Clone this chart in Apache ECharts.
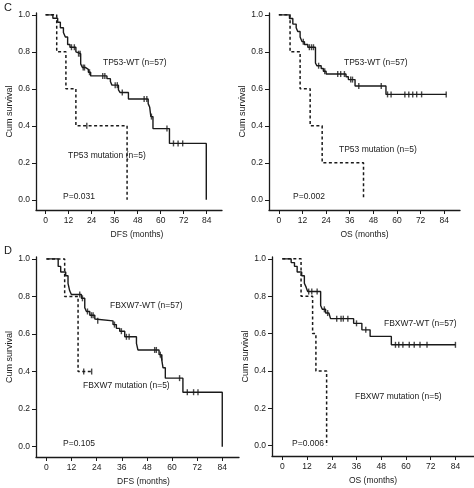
<!DOCTYPE html>
<html><head><meta charset="utf-8">
<script src="https://cdn.jsdelivr.net/npm/echarts@6/dist/echarts.min.js"></script>
<style>html,body{margin:0;padding:0;background:#fff}#c{width:474px;height:488px}</style>
</head><body><div id="c"></div>
<script>
// Tick labels
const xTicks = [0, 12, 24, 36, 48, 60, 72, 84];
const yTicks = [0, 0.2, 0.4, 0.6, 0.8, 1.0];

// Panel C left: TP53, DFS
const tp53DfsWT = [[0,1],[3.8,0.982],[6.3,0.96],[7.7,0.93],[9.3,0.905],[10.3,0.88],[11.5,0.84],[12.7,0.825],[15.8,0.80],[16.6,0.79],[18.3,0.735],[19.2,0.715],[20.9,0.705],[22.3,0.69],[23.5,0.67],[32,0.655],[33.8,0.64],[34.6,0.62],[38,0.595],[38.9,0.58],[43.2,0.545],[53.5,0.52],[54.3,0.50],[54.9,0.45],[56,0.385],[64.6,0.305],[83.8,0]];
const tp53DfsWTCens = [[13.5,0.825],[15,0.825],[17.2,0.79],[18,0.79],[19.6,0.715],[20.3,0.715],[22.9,0.69],[29.8,0.67],[30.9,0.67],[36.3,0.62],[37.4,0.62],[40,0.58],[51.4,0.545],[52.8,0.545],[55.2,0.45],[63.3,0.385],[66.7,0.305],[69.1,0.305],[71.5,0.305]];
const tp53DfsMut = [[0,1],[5.8,0.8],[10.6,0.6],[15.8,0.4],[42.5,0]];
const tp53DfsMutCens = [[21.5,0.4]];

// Panel C right: TP53, OS
const tp53OsWT = [[0,1],[5.4,0.98],[7.1,0.95],[8.8,0.93],[9.6,0.91],[10.8,0.88],[11.8,0.855],[13,0.84],[14.7,0.825],[18.6,0.74],[19.3,0.725],[21.5,0.71],[22.6,0.695],[24,0.68],[34.1,0.665],[35.3,0.65],[38.7,0.615],[54.4,0.57],[85,0.57]];
const tp53OsWTCens = [[12.4,0.855],[15.5,0.825],[16.6,0.825],[17.6,0.825],[20.2,0.725],[23.3,0.695],[29.9,0.68],[31.4,0.68],[33.3,0.68],[36.5,0.65],[37.4,0.65],[40.6,0.615],[52,0.615],[55.2,0.57],[57,0.57],[64,0.57],[66,0.57],[68,0.57],[70,0.57],[72.5,0.57],[85,0.57]];
const tp53OsMut = [[0,1],[5.7,0.8],[10.8,0.6],[15.9,0.4],[22,0.2],[43,0]];
const tp53OsMutCens = [];

// Panel D left: FBXW7, DFS
const fbxDfsWT = [[0,1],[5.6,0.96],[6.8,0.93],[9.2,0.91],[10.3,0.87],[11.1,0.83],[11.9,0.81],[16.7,0.79],[18.3,0.74],[19.1,0.72],[20.7,0.70],[23.1,0.68],[23.9,0.67],[31.8,0.65],[33.4,0.63],[35,0.615],[37.4,0.585],[43,0.55],[43.7,0.515],[53.8,0.49],[54.9,0.475],[55.7,0.42],[56.8,0.365],[65.2,0.29],[84,0]];
const fbxDfsWTCens = [[15.9,0.81],[17.2,0.79],[19.6,0.72],[21.5,0.70],[22.3,0.70],[24.5,0.67],[32.5,0.65],[35.8,0.615],[38.2,0.585],[39.5,0.585],[51.7,0.515],[52.5,0.515],[54.4,0.49],[55.2,0.475],[63.6,0.365],[67.3,0.29],[70.3,0.29],[72.4,0.29]];
const fbxDfsMut = [[0,1],[8.7,0.8],[15.1,0.4],[21.6,0.4]];
const fbxDfsMutCens = [[17.8,0.4],[21.6,0.4]];

// Panel D right: FBXW7, OS
const fbxOsWT = [[0,1],[4.3,0.98],[5.9,0.96],[7.2,0.93],[9.4,0.91],[10.7,0.87],[11.5,0.85],[12.3,0.825],[18.6,0.75],[19.4,0.73],[21,0.71],[22.6,0.70],[23.4,0.68],[34.6,0.655],[38.6,0.62],[42.6,0.585],[52.9,0.54],[84,0.54]];
const fbxOsWTCens = [[12.8,0.825],[14.3,0.825],[16.9,0.825],[20.4,0.73],[22,0.71],[26.4,0.68],[28.5,0.68],[29.6,0.68],[31.8,0.68],[36,0.655],[40.5,0.62],[54.9,0.54],[56.5,0.54],[58.5,0.54],[61.6,0.54],[64,0.54],[66.8,0.54],[70.2,0.54],[84,0.54]];
const fbxOsMut = [[0,1],[9.1,0.8],[14.7,0.6],[16.3,0.4],[21.5,0]];
const fbxOsMutCens = [];

const xNames = ['DFS (months)', 'OS (months)', 'DFS (months)', 'OS (months)'];
const yName = 'Cum survival';
const wtLabels = ['TP53-WT (n=57)', 'TP53-WT (n=57)', 'FBXW7-WT (n=57)', 'FBXW7-WT (n=57)'];
const mutLabels = ['TP53 mutation (n=5)', 'TP53 mutation (n=5)', 'FBXW7 mutation (n=5)', 'FBXW7 mutation (n=5)'];
const pLabels = ['P=0.031', 'P=0.002', 'P=0.105', 'P=0.006'];
const panelLetters = ['C', 'D'];

const panels = [
  {wt: tp53DfsWT, wtC: tp53DfsWTCens, mut: tp53DfsMut, mutC: tp53DfsMutCens},
  {wt: tp53OsWT, wtC: tp53OsWTCens, mut: tp53OsMut, mutC: tp53OsMutCens},
  {wt: fbxDfsWT, wtC: fbxDfsWTCens, mut: fbxDfsMut, mutC: fbxDfsMutCens},
  {wt: fbxOsWT, wtC: fbxOsWTCens, mut: fbxOsMut, mutC: fbxOsMutCens}
];

// layout (pixels)
const grids = [
  {left: 36, top: 13, width: 186, height: 197, xmin: -5, xmax: 92, namePad: 16},
  {left: 269, top: 13, width: 191, height: 197, xmin: -5, xmax: 92, namePad: 0},
  {left: 36, top: 257, width: 203, height: 200, xmin: -5, xmax: 92, namePad: 12},
  {left: 272, top: 257, width: 202, height: 199, xmin: -5, xmax: 93, namePad: 0}
];
const textPos = [
  {wt: [103, 63], mut: [68, 156], p: [63, 197]},
  {wt: [344, 63], mut: [339, 150], p: [293, 197]},
  {wt: [110, 306], mut: [83, 386], p: [63, 444]},
  {wt: [384, 324], mut: [355, 397], p: [292, 444]}
];
const letterPos = [[4, 8], [4, 251]];

const FONT = 'Liberation Sans, Arial, sans-serif';
const INK = '#1a1a1a';
const FS = 8.5;

const option = {
  animation: false,
  backgroundColor: '#fff',
  grid: grids.map(g => ({left: g.left, top: g.top, width: g.width, height: g.height, containLabel: false})),
  xAxis: grids.map((g, i) => ({
    type: 'value', gridIndex: i, min: g.xmin, max: g.xmax,
    name: xNames[i], nameLocation: 'middle', nameGap: 20,
    nameTextStyle: {fontFamily: FONT, fontSize: FS, color: INK, padding: [0, 0, 0, g.namePad]},
    axisLine: {show: true, onZero: false, lineStyle: {color: INK, width: 1.3}},
    axisTick: {show: true, length: 4, customValues: xTicks, lineStyle: {color: INK, width: 1}},
    axisLabel: {customValues: xTicks, margin: 6, fontFamily: FONT, fontSize: FS, color: INK},
    splitLine: {show: false}
  })),
  yAxis: grids.map((g, i) => ({
    type: 'value', gridIndex: i, min: -0.055, max: 1.01,
    name: yName, nameLocation: 'middle', nameGap: 17,
    nameTextStyle: {fontFamily: FONT, fontSize: 9, color: INK},
    axisLine: {show: true, onZero: false, lineStyle: {color: INK, width: 1.3}},
    axisTick: {show: true, length: 4, customValues: yTicks, lineStyle: {color: INK, width: 1}},
    axisLabel: {customValues: yTicks, margin: 6, fontFamily: FONT, fontSize: FS, color: INK,
      formatter: v => Number(v).toFixed(1)},
    splitLine: {show: false}
  })),
  series: [],
  graphic: []
};

panels.forEach((p, i) => {
  option.series.push({
    type: 'line', xAxisIndex: i, yAxisIndex: i, step: 'end', data: p.wt,
    symbol: 'none', lineStyle: {color: INK, width: 1.4}, z: 3
  });
  option.series.push({
    type: 'line', xAxisIndex: i, yAxisIndex: i, step: 'end', data: p.mut,
    symbol: 'none', lineStyle: {color: INK, width: 1.5, type: [3, 2.5]}, z: 2
  });
  option.series.push({
    type: 'scatter', xAxisIndex: i, yAxisIndex: i, data: p.wtC,
    symbol: 'rect', symbolSize: [1.4, 6], itemStyle: {color: INK}, z: 4
  });
  option.series.push({
    type: 'scatter', xAxisIndex: i, yAxisIndex: i, data: p.mutC,
    symbol: 'rect', symbolSize: [1.4, 6], itemStyle: {color: INK}, z: 4
  });
  const t = textPos[i];
  [[wtLabels[i], t.wt], [mutLabels[i], t.mut], [pLabels[i], t.p]].forEach(([txt, pos]) => {
    option.graphic.push({
      type: 'text', x: pos[0], y: pos[1], z: 10,
      style: {text: txt, fill: INK, font: FS + 'px ' + FONT, textAlign: 'left', textVerticalAlign: 'middle'}
    });
  });
});
panelLetters.forEach((L, k) => {
  option.graphic.push({
    type: 'text', x: letterPos[k][0], y: letterPos[k][1], z: 10,
    style: {text: L, fill: INK, font: '11px ' + FONT, textAlign: 'left', textVerticalAlign: 'middle'}
  });
});

const chart = echarts.init(document.getElementById('c'), null, {renderer: 'canvas'});
chart.setOption(option);
</script>
</body></html>
